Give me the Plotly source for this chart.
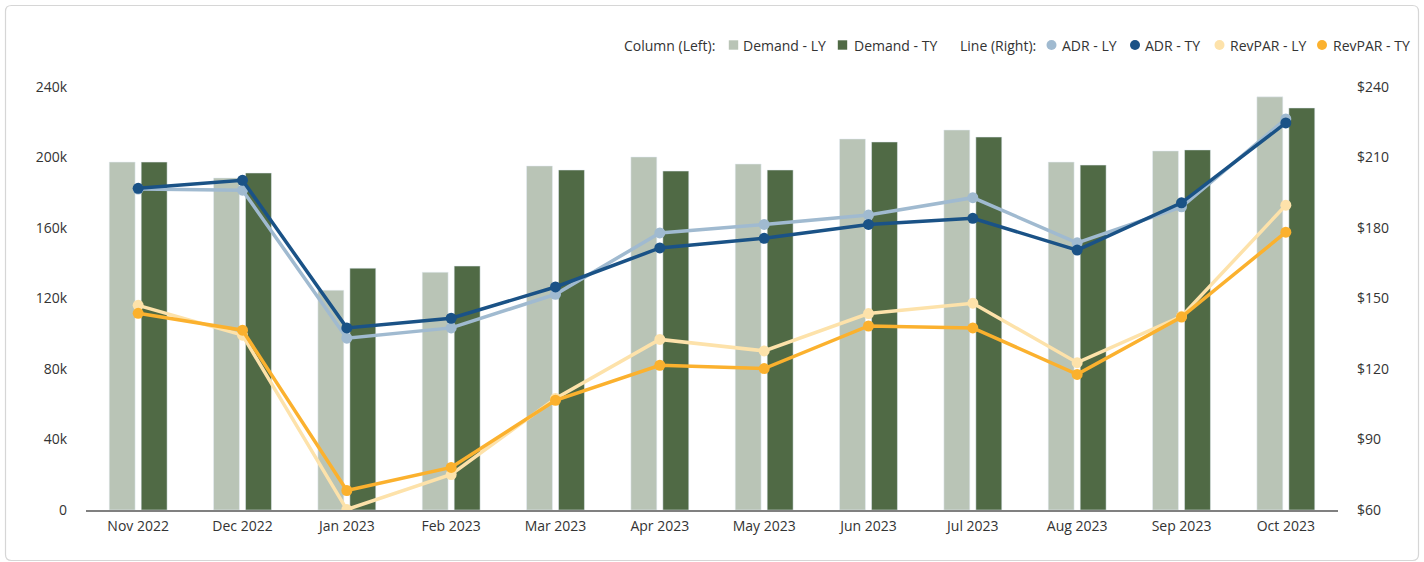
import plotly.graph_objects as go

months = ["Nov 2022", "Dec 2022", "Jan 2023", "Feb 2023", "Mar 2023", "Apr 2023",
          "May 2023", "Jun 2023", "Jul 2023", "Aug 2023", "Sep 2023", "Oct 2023"]

demand_ly = [197400, 188400, 124700, 134900, 195200, 200300, 196300, 210500, 215600, 197400, 203700, 234400]
demand_ty = [197400, 191200, 137200, 138400, 192900, 192300, 192900, 208800, 211600, 195700, 204300, 228100]

adr_ly = [196.6, 196.1, 133.1, 137.5, 151.8, 177.9, 181.5, 185.5, 192.9, 173.7, 189.0, 226.4]
adr_ty = [196.9, 200.3, 137.5, 141.6, 154.9, 171.5, 175.6, 181.5, 184.1, 170.6, 190.7, 224.7]

revpar_ly = [147.1, 134.4, 60.2, 75.1, 107.5, 132.6, 127.7, 143.6, 148.0, 122.7, 142.4, 189.7]
revpar_ty = [143.7, 136.5, 68.3, 78.1, 106.7, 121.6, 120.2, 138.3, 137.5, 117.7, 142.1, 178.2]

left_ticks = [0, 40000, 80000, 120000, 160000, 200000, 240000]
left_labels = ["0", "40k", "80k", "120k", "160k", "200k", "240k"]
right_ticks = [60, 90, 120, 150, 180, 210, 240]
right_labels = ["$60", "$90", "$120", "$150", "$180", "$210", "$240"]

C_DLY = "#b9c4b6"
C_DTY = "#506a45"
C_ALY = "#a0bad0"
C_ATY = "#1a5286"
C_RLY = "#fde2aa"
C_RTY = "#fbb12e"

FONT = "Open Sans"
TXT = "#333333"

W, H = 1424, 562
ML, MR, MT, MB = 86, 86, 87, 52
PW = W - ML - MR
PH = H - MT - MB


def px(x):
    return (x - ML) / PW


def py(y):
    return (H - MB - y) / PH


fig = go.Figure()

fig.add_trace(go.Bar(x=months, y=demand_ly, name="Demand - LY", marker_color=C_DLY,
                     hovertemplate="%{x}<br>Demand - LY: %{y:,}<extra></extra>"))
fig.add_trace(go.Bar(x=months, y=demand_ty, name="Demand - TY", marker_color=C_DTY,
                     hovertemplate="%{x}<br>Demand - TY: %{y:,}<extra></extra>"))

line_series = [
    ("ADR - LY", adr_ly, C_ALY),
    ("ADR - TY", adr_ty, C_ATY),
    ("RevPAR - LY", revpar_ly, C_RLY),
    ("RevPAR - TY", revpar_ty, C_RTY),
]
for name, vals, col in line_series:
    fig.add_trace(go.Scatter(x=months, y=vals, name=name, yaxis="y2", mode="lines+markers",
                             line=dict(color=col, width=3.5), marker=dict(color=col, size=11),
                             hovertemplate="%{x}<br>" + name + ": $%{y:.2f}<extra></extra>"))

# ---- custom legend (text + symbols) ----
LEG_Y = 45
annotations = []
shapes = []


def leg_text(x, text):
    annotations.append(dict(x=px(x), y=py(LEG_Y), xref="paper", yref="paper", text=text,
                            showarrow=False, xanchor="left", yanchor="middle",
                            font=dict(family=FONT, size=14, color=TXT)))


def leg_square(xc, col):
    s = 4.7
    shapes.append(dict(type="rect", xref="paper", yref="paper",
                       x0=px(xc - s), x1=px(xc + s), y0=py(LEG_Y + s), y1=py(LEG_Y - s),
                       fillcolor=col, line=dict(width=0)))


def leg_circle(xc, col):
    s = 5
    shapes.append(dict(type="circle", xref="paper", yref="paper",
                       x0=px(xc - s), x1=px(xc + s), y0=py(LEG_Y + s), y1=py(LEG_Y - s),
                       fillcolor=col, line=dict(width=0)))


leg_text(622, "Column (Left):")
leg_square(733.5, C_DLY)
leg_text(741, "Demand - LY")
leg_square(842.5, C_DTY)
leg_text(852, "Demand - TY")
leg_text(958, "Line (Right):")
leg_circle(1051.5, C_ALY)
leg_text(1060, "ADR - LY")
leg_circle(1135, C_ATY)
leg_text(1143, "ADR - TY")
leg_circle(1219.5, C_RLY)
leg_text(1228, "RevPAR - LY")
leg_circle(1322, C_RTY)
leg_text(1331, "RevPAR - TY")

# ---- card border with rounded corners ----
x0, x1, y0, y1 = 5.5, 1418.5, 5.5, 560.5
r = 6
rx, ry = r / PW, r / PH
X0, X1, Y0, Y1 = px(x0), px(x1), py(y1), py(y0)
card = (f"M{X0 + rx},{Y1} L{X1 - rx},{Y1} Q{X1},{Y1} {X1},{Y1 - ry} "
        f"L{X1},{Y0 + ry} Q{X1},{Y0} {X1 - rx},{Y0} "
        f"L{X0 + rx},{Y0} Q{X0},{Y0} {X0},{Y0 + ry} "
        f"L{X0},{Y1 - ry} Q{X0},{Y1} {X0 + rx},{Y1} Z")
shapes.insert(0, dict(type="path", xref="paper", yref="paper", path=card,
                      line=dict(color="#d6d6d6", width=1.2), fillcolor="rgba(0,0,0,0)", layer="below"))

fig.update_layout(
    width=W, height=H,
    margin=dict(l=ML, r=MR, t=MT, b=MB),
    paper_bgcolor="white", plot_bgcolor="white",
    font=dict(family=FONT, size=14, color=TXT),
    showlegend=False,
    barmode="group", bargap=0.387, bargroupgap=0.19,
    xaxis=dict(type="category", range=[-0.5, 11.5], showgrid=False, showline=True,
               linecolor="#808080", linewidth=2, ticks="", tickfont=dict(size=14, color=TXT),
               ticklabelstandoff=2),
    yaxis=dict(range=[0, 240000], tickvals=left_ticks, ticktext=left_labels, showgrid=False,
               zeroline=False, ticks="", ticklabelstandoff=18, tickfont=dict(size=14, color=TXT)),
    yaxis2=dict(range=[60, 240], tickvals=right_ticks, ticktext=right_labels, overlaying="y",
                side="right", showgrid=False, zeroline=False, ticks="", ticklabelstandoff=18,
                tickfont=dict(size=14, color=TXT)),
    annotations=annotations,
    shapes=shapes,
)

fig.write_html("out.html", config={"displayModeBar": False},
               post_script="document.body.style.margin='0px';document.body.style.overflow='hidden';")
